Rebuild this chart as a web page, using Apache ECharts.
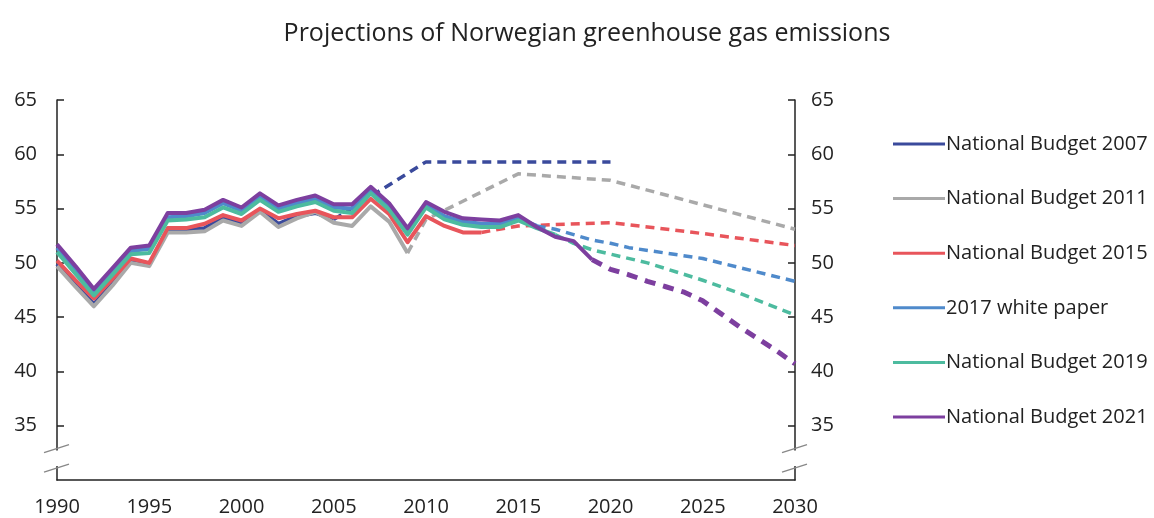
<!DOCTYPE html>
<html><head><meta charset="utf-8">
<script src="https://cdn.jsdelivr.net/npm/echarts@6/dist/echarts.min.js"></script>
<style>html,body{margin:0;padding:0;background:#fff}#c{width:1154px;height:518px}</style>
</head><body><div id="c"></div>
<script>
const histYears = [1990,1991,1992,1993,1994,1995,1996,1997,1998,1999,2000,2001,2002,2003,2004,2005,2006,2007,2008,2009,2010,2011,2012,2013,2014,2015,2016,2017,2018,2019];

const nb2007Hist = [49.9,48.0,46.2,48.1,50.1,49.9,53.0,53.0,53.2,54.1,53.6,54.9,53.6,54.3,54.6,54.0];
const nb2007ProjYears = [2005,2010,2015,2020];
const nb2007Proj = [54.0,59.3,59.3,59.3];

const nb2011Hist = [49.7,47.8,46.0,47.9,50.0,49.7,52.8,52.8,52.9,53.9,53.4,54.7,53.3,54.1,54.7,53.7,53.4,55.2,53.8,50.9];
const nb2011ProjYears = [2009,2010,2015,2020,2030];
const nb2011Proj = [50.9,54.0,58.2,57.6,53.1];

const nb2015Hist = [50.2,48.4,46.7,48.5,50.4,50.0,53.2,53.2,53.6,54.4,53.9,55.0,54.1,54.5,54.8,54.2,54.2,55.9,54.5,51.9,54.3,53.4,52.8,52.8];
const nb2015ProjYears = [2013,2015,2020,2025,2030];
const nb2015Proj = [52.8,53.4,53.7,52.7,51.6];

const wp2017Hist = [51.4,49.4,47.3,49.3,51.1,51.3,54.2,54.3,54.6,55.5,54.8,56.1,55.0,55.5,55.9,55.1,55.0,56.7,55.2,52.9,55.3,54.3,53.8,53.6,53.6,54.1,53.4];
const wp2017ProjYears = [2016,2017,2018,2019,2020,2021,2025,2030];
const wp2017Proj = [53.4,53.1,52.6,52.1,51.8,51.4,50.4,48.3];

const nb2019Hist = [51.0,49.0,47.0,48.9,50.8,50.9,53.9,54.0,54.2,55.1,54.5,55.8,54.7,55.2,55.6,54.8,54.6,56.4,54.9,52.6,55.1,54.0,53.5,53.3,53.3,53.9,53.2,52.6];
const nb2019ProjYears = [2017,2018,2019,2020,2022,2025,2027,2030];
const nb2019Proj = [52.6,51.8,51.2,50.8,50.0,48.4,47.2,45.2];

const nb2021Hist = [51.7,49.7,47.6,49.5,51.4,51.6,54.6,54.6,54.9,55.8,55.1,56.4,55.3,55.8,56.2,55.4,55.4,57.0,55.5,53.2,55.6,54.7,54.1,54.0,53.9,54.4,53.3,52.4,52.0,50.3];
const nb2021ProjYears = [2019,2020,2021,2022,2023,2024,2025,2026,2027,2028,2029,2030];
const nb2021Proj = [50.3,49.4,48.9,48.3,47.8,47.3,46.5,45.3,44.1,43.0,41.9,40.7];

const yTicks = [35,40,45,50,55,60,65];
const xTicks = [1990,1995,2000,2005,2010,2015,2020,2025,2030];

const names = ['National Budget 2007','National Budget 2011','National Budget 2015','2017 white paper','National Budget 2019','National Budget 2021'];
const colors = ['#3a4a9c','#a9a9a9','#e8555b','#4f8acb','#4dbb9f','#7d3f9f'];

function pairs(ys, vs){ return vs.map((v,i)=>[ys[i], v]); }

const hists = [nb2007Hist, nb2011Hist, nb2015Hist, wp2017Hist, nb2019Hist, nb2021Hist];
const projs = [[nb2007ProjYears,nb2007Proj],[nb2011ProjYears,nb2011Proj],[nb2015ProjYears,nb2015Proj],[wp2017ProjYears,wp2017Proj],[nb2019ProjYears,nb2019Proj],[nb2021ProjYears,nb2021Proj]];

const series = [];
names.forEach((n,i)=>{
  series.push({
    name:n, type:'line', showSymbol:false, symbol:'none', z:2+i,
    data: pairs(histYears, hists[i]),
    itemStyle:{color:colors[i]},
    lineStyle:{color:colors[i], width:4, join:'round'}
  });
});
names.forEach((n,i)=>{
  series.push({
    name:n, type:'line', showSymbol:false, symbol:'none', z:2+i,
    data: pairs(projs[i][0], projs[i][1]),
    itemStyle:{color:colors[i]},
    lineStyle:{color:colors[i], width: i===5?5:3.5, type: i===5?[11,8]:[9,6]}
  });
});

const font = '"Open Sans", "Noto Sans", sans-serif';
const axisCommon = {
  type:'value', min:30, max:65, interval:5,
  axisLine:{show:true, lineStyle:{color:'#222', width:1.5}},
  axisTick:{show:true, inside:true, length:7, lineStyle:{color:'#222', width:1.5}, customValues:yTicks},
  axisLabel:{color:'#222', fontSize:20, fontFamily:font, customValues:yTicks, margin:20},
  splitLine:{show:false}
};

const chart = echarts.init(document.getElementById('c'), null, {renderer:'canvas'});
chart.setOption({
  backgroundColor:'#fff',
  animation:false,
  title:{text:'Projections of Norwegian greenhouse gas emissions', left:582, textAlign:'center', top:16,
    textStyle:{fontFamily:font, fontSize:25, fontWeight:'normal', color:'#222'}},
  grid:{left:57, right:359, top:100, bottom:38},
  legend:{orient:'vertical', left:888, top:129, itemGap:34.6, itemWidth:52, itemHeight:3, icon:'rect',
    data:names, textStyle:{fontFamily:font, fontSize:20, color:'#222', padding:[0,0,0,-4]}},
  xAxis:{type:'value', min:1990, max:2030, interval:5,
    axisLine:{show:true, onZero:false, lineStyle:{color:'#222', width:1.5}},
    axisTick:{show:false},
    axisLabel:{color:'#222', fontSize:20, fontFamily:font, margin:17, formatter:v=>String(v)},
    splitLine:{show:false}},
  yAxis:[Object.assign({}, axisCommon, {position:'left'}), Object.assign({}, axisCommon, {position:'right', axisLabel:Object.assign({}, axisCommon.axisLabel, {margin:16})})],
  series: series
});

function drawBreaks(){
  const xl = chart.convertToPixel({xAxisIndex:0}, 1990);
  const xr = chart.convertToPixel({xAxisIndex:0}, 2030);
  const yTop = chart.convertToPixel({yAxisIndex:0}, 32.9);
  const yBot = chart.convertToPixel({yAxisIndex:0}, 31.1);
  const g = [];
  [xl, xr].forEach(x=>{
    g.push({type:'rect', shape:{x:x-3, y:yTop+2, width:6, height:yBot-yTop-4}, style:{fill:'#fff'}, z:100});
    [yTop, yBot].forEach(y=>{
      g.push({type:'line', shape:{x1:x-13, y1:y+4, x2:x+12, y2:y-4}, style:{stroke:'#888', lineWidth:1.3}, z:101});
    });
  });
  chart.setOption({graphic:g});
}
drawBreaks();
</script></body></html>
